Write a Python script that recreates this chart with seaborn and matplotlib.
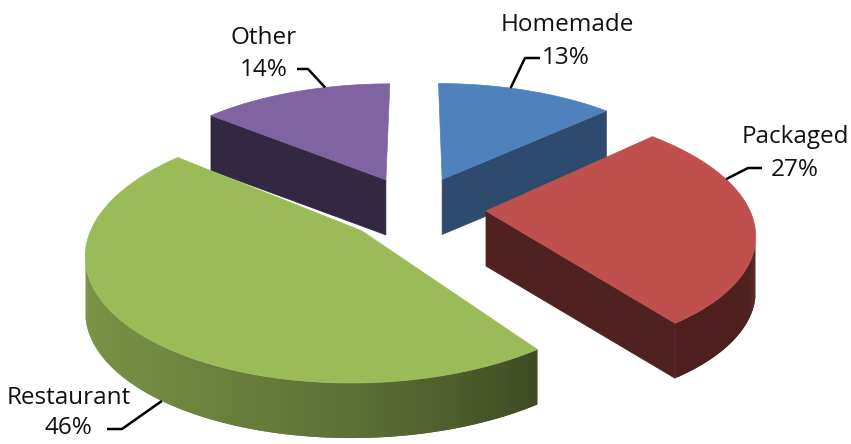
import numpy as np
import matplotlib.pyplot as plt
import seaborn as sns
from matplotlib.colors import to_rgb

sns.set_theme(style="white")
plt.rcParams['font.family'] = ['Open Sans', 'DejaVu Sans']

# data
categories = ['Homemade', 'Packaged', 'Restaurant', 'Other']
shares = [13, 27, 46, 14]
pct_labels = ['13%', '27%', '46%', '14%']
top_colors = ['#4F81BD', '#C0504D', '#9BBB59', '#8064A2']

# look of the 3d pie (pixel canvas)
W, H = 851, 444
CX, CY = 415, 208
SCALE = 263
SIN_A = 0.455
COS_A = np.sqrt(1 - SIN_A ** 2)
PERSP = 0.18
EXPLODE = 0.27
DEPTH = 0.235
radial_shade = [0.58, 0.41, 0.45, 0.40]
# label layout: anchor angle on the rim, anchor height, text centre, leader bends
label_angle = [71, 16, 232, 107]
label_z = [0, 0, -DEPTH, 0]
name_xy = [(567, 25), (795, 137), (69, 398), (264, 38)]
pct_xy = [(566, 58), (795, 170), (68, 428), (264, 70)]
leader_pts = [[(525, 58), (540, 58)], [(748, 168), (762, 168)],
              [(122, 429), (107, 429)], [(308, 69), (297, 69)]]

cam = np.array([0, -COS_A / PERSP, SIN_A / PERSP])


def proj(x, y, z):
    # perspective on the pie plane only, walls keep the same height
    den = 1 + PERSP * y * COS_A
    return CX + SCALE * x / den, CY - SCALE * y * SIN_A / den - SCALE * z * COS_A


def shade(col, f):
    return tuple(np.clip(np.array(to_rgb(col)) * f, 0, 1))


def wall_shade(th):
    th = th % 360
    return np.interp(th, [0, 180, 230, 270, 306, 360],
                     [0.42, 0.82, 0.74, 0.60, 0.40, 0.42])


def visible(point, normal):
    return np.dot(normal, cam - point) > 0


fig = plt.figure(figsize=(W / 100, H / 100), dpi=100)
ax = fig.add_axes([0, 0, 1, 1])
ax.set_xlim(0, W)
ax.set_ylim(H, 0)
ax.axis('off')

cum = np.concatenate([[0], np.cumsum(shares)]) / np.sum(shares) * 360
slices = []
for i, cat in enumerate(categories):
    t1 = 90 - cum[i]
    t2 = 90 - cum[i + 1]
    mid = np.radians((t1 + t2) / 2)
    c = np.array([np.cos(mid), np.sin(mid), 0]) * EXPLODE
    slices.append((i, t1, t2, mid, c))

# back slices first
for i, t1, t2, mid, c in sorted(slices, key=lambda s: -np.sin(s[3])):
    col = top_colors[i]
    # radial cut faces
    for ang, nrm in [(t1, t1 + 90), (t2, t2 - 90)]:
        r = np.radians(ang)
        n = np.array([np.cos(np.radians(nrm)), np.sin(np.radians(nrm)), 0])
        if abs(n[1]) < 1e-6 or not visible(c, n):
            continue
        e = c + np.array([np.cos(r), np.sin(r), 0])
        pts = [proj(c[0], c[1], 0), proj(e[0], e[1], 0),
               proj(e[0], e[1], -DEPTH), proj(c[0], c[1], -DEPTH)]
        ax.fill(*zip(*pts), color=shade(col, radial_shade[i]), lw=0.5)
    # outer wall in overlapping thin strips for the light gradient
    angs = np.linspace(t2, t1, 161)
    for k in range(len(angs) - 1):
        a0 = angs[k]
        a1 = angs[min(k + 2, len(angs) - 1)]
        am = np.radians((a0 + angs[k + 1]) / 2)
        n = np.array([np.cos(am), np.sin(am), 0])
        if not visible(c + n, n):
            continue
        r0, r1 = np.radians(a0), np.radians(a1)
        x0, y0 = c[0] + np.cos(r0), c[1] + np.sin(r0)
        x1, y1 = c[0] + np.cos(r1), c[1] + np.sin(r1)
        pts = [proj(x0, y0, 0), proj(x1, y1, 0),
               proj(x1, y1, -DEPTH), proj(x0, y0, -DEPTH)]
        fc = shade(col, wall_shade(np.degrees(am)))
        ax.fill(*zip(*pts), color=fc, lw=0)
    # top face
    rr = np.radians(np.linspace(t2, t1, 120))
    xs = np.concatenate([[c[0]], c[0] + np.cos(rr)])
    ys = np.concatenate([[c[1]], c[1] + np.sin(rr)])
    px, py = proj(xs, ys, 0)
    ax.fill(px, py, color=col, lw=0.5)

# labels with leader lines
for i, cat in enumerate(categories):
    t1 = 90 - cum[i]
    t2 = 90 - cum[i + 1]
    mid = np.radians((t1 + t2) / 2)
    c = np.array([np.cos(mid), np.sin(mid)]) * EXPLODE
    a = np.radians(label_angle[i])
    ax0, ay0 = proj(c[0] + np.cos(a), c[1] + np.sin(a), label_z[i])
    lx = [ax0] + [p[0] for p in leader_pts[i]]
    ly = [ay0] + [p[1] for p in leader_pts[i]]
    ax.plot(lx, ly, color='black', lw=1.8, solid_capstyle='butt')
    ax.text(*name_xy[i], cat, ha='center', va='center', fontsize=17.5,
            color='#111111')
    ax.text(*pct_xy[i], pct_labels[i], ha='center', va='center',
            fontsize=17.5, color='#111111')

fig.savefig('out.png', dpi=100)
